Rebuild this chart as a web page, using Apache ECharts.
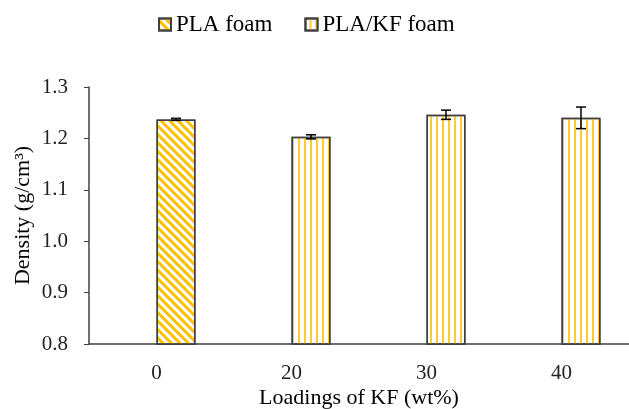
<!DOCTYPE html>
<html><head><meta charset="utf-8">
<script src="https://cdn.jsdelivr.net/npm/echarts@6/dist/echarts.min.js"></script>
<style>html,body{margin:0;padding:0;background:#fff}#c{width:629px;height:409px}</style>
</head><body><div id="c"></div>
<script>
const categories = ['0', '20', '30', '40'];
const plaFoam = [1.237, '-', '-', '-'];
const plaKfFoam = ['-', 1.203, 1.246, 1.240];
const errors = [0.002, 0.004, 0.009, 0.021];
const means = [1.237, 1.203, 1.246, 1.240];

const chart = echarts.init(document.getElementById('c'), null, {renderer: 'canvas'});
const font = 'Liberation Serif, Times New Roman, serif';
const BW = 39;
const border = {borderColor: '#404040', borderWidth: 1.5};

chart.setOption({
  animation: false,
  textStyle: {fontFamily: font},
  grid: {left: 89, right: 0, top: 87, bottom: 65, outerBoundsMode: 'none', containLabel: false},
  legend: {
    left: 153, top: 8, itemWidth: 12, itemHeight: 12, itemGap: 32, icon: 'rect',
    textStyle: {fontFamily: font, fontSize: 23, color: '#000'},
    data: ['PLA foam', 'PLA/KF foam']
  },
  xAxis: {
    type: 'category', data: categories,
    axisLine: {lineStyle: {color: '#404040', width: 1.5}},
    axisTick: {show: false},
    axisLabel: {fontSize: 21, color: '#222', margin: 19, fontFamily: font},
    name: 'Loadings of KF (wt%)', nameLocation: 'middle', nameGap: 43, nameMoveOverlap: false,
    nameTextStyle: {fontSize: 22, color: '#000', fontFamily: font}
  },
  yAxis: {
    type: 'value', min: 0.8, max: 1.3, interval: 0.1,
    axisLine: {show: true, lineStyle: {color: '#404040', width: 1.5}},
    axisTick: {show: true, length: 5, lineStyle: {color: '#404040'}},
    splitLine: {show: false},
    axisLabel: {fontSize: 21, color: '#222', margin: 21, fontFamily: font,
      formatter: v => v.toFixed(1)},
    name: 'Density (g/cm³)', nameLocation: 'middle', nameGap: 55, nameRotate: 90,
    nameMoveOverlap: false,
    nameTextStyle: {fontSize: 22, color: '#000', fontFamily: font}
  },
  series: [
    {type: 'bar', name: '_pad', data: [], barWidth: BW, barGap: 0},
    {type: 'bar', name: 'PLA foam', data: plaFoam, stack: 's', barWidth: BW,
      itemStyle: Object.assign({color: '#fff', decal: {
        symbol: 'rect', symbolSize: 1, color: '#FFC000',
        dashArrayX: [[1, 0]], dashArrayY: [3, 2.6], rotation: Math.PI / 4
      }}, border)},
    {type: 'bar', name: 'PLA/KF foam', data: plaKfFoam, stack: 's', barWidth: BW, barGap: 0,
      itemStyle: Object.assign({color: '#fff', decal: {
        symbol: 'rect', symbolSize: 1, color: '#FFC933',
        dashArrayX: [[1, 0]], dashArrayY: [2, 3.6], rotation: Math.PI / 2
      }}, border)},
    {type: 'custom', name: 'err', z: 10,
      data: means.map((m, i) => [i, m - errors[i], m + errors[i]]),
      renderItem: function (params, api) {
        const lo = api.coord([api.value(0), api.value(1)]);
        const hi = api.coord([api.value(0), api.value(2)]);
        const x = lo[0] + BW / 2;
        const cap = 5;
        const st = {stroke: '#000', lineWidth: 1.5};
        return {type: 'group', children: [
          {type: 'line', shape: {x1: x, y1: lo[1], x2: x, y2: hi[1]}, style: st},
          {type: 'line', shape: {x1: x - cap, y1: lo[1], x2: x + cap, y2: lo[1]}, style: st},
          {type: 'line', shape: {x1: x - cap, y1: hi[1], x2: x + cap, y2: hi[1]}, style: st}
        ]};
      }
    }
  ]
});
</script></body></html>
